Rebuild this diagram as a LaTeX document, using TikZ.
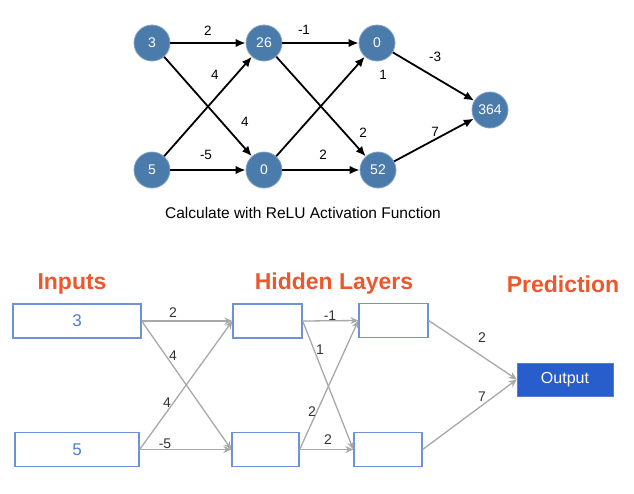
\documentclass[tikz,border=0pt]{standalone}
\usepackage{fontspec}
\setmainfont{Liberation Sans}
\usetikzlibrary{arrows.meta}
\definecolor{circblue}{RGB}{74,123,170}
\definecolor{outblue}{RGB}{40,94,204}
\definecolor{boxblue}{RGB}{110,145,215}
\definecolor{txtblue}{RGB}{80,125,205}
\definecolor{titleorange}{RGB}{236,88,44}
\definecolor{arrgray}{RGB}{168,168,168}
\definecolor{lblgray}{RGB}{50,50,50}
\tikzset{
  neuron/.style={circle,fill=circblue,draw=circblue!70!white,line width=0.8pt,minimum size=36pt,inner sep=0pt,text=white,font=\fontsize{14}{14}\selectfont},
  toparrow/.style={line width=1.8pt,-{Latex[length=10pt,width=8.5pt]}},
  toplbl/.style={font=\fontsize{13.5}{13.5}\selectfont,text=black,inner sep=0pt},
  layerbox/.style={draw=boxblue,line width=1.3pt,minimum height=34pt,inner sep=0pt,text=txtblue,font=\fontsize{17}{17}\selectfont},
  outbox/.style={fill=outblue,draw=outblue!80!white,minimum height=33pt,minimum width=96pt,inner sep=0pt,text=white,font=\fontsize{16}{16}\selectfont},
  grayarrow/.style={draw=arrgray,line width=1.3pt,-{Stealth[length=8pt,width=7pt]}},
  botlbl/.style={font=\fontsize{14}{14}\selectfont,text=lblgray,inner sep=0pt},
  title/.style={font=\fontsize{23}{23}\selectfont\bfseries,text=titleorange,inner sep=0pt}
}
\begin{document}
\begin{tikzpicture}[x=1pt,y=-1pt]
\useasboundingbox (0,0) rectangle (634,493);
% ---------- top network ----------
\node[neuron] (a1) at (152,43) {3};
\node[neuron] (a2) at (152,170) {5};
\node[neuron] (b1) at (264,43) {26};
\node[neuron] (b2) at (264,170) {0};
\node[neuron] (c1) at (377,43) {0};
\node[neuron] (c2) at (378,170) {52};
\node[neuron] (d) at (490,110) {364};
\draw[toparrow] (a1) -- (b1);
\draw[toparrow] (a1) -- (b2);
\draw[toparrow] (a2) -- (b1);
\draw[toparrow] (a2) -- (b2);
\draw[toparrow] (b1) -- (c1);
\draw[toparrow] (b1) -- (c2);
\draw[toparrow] (b2) -- (c1);
\draw[toparrow] (b2) -- (c2);
\draw[toparrow] (c1) -- (d);
\draw[toparrow] (c2) -- (d);
\node[toplbl] (t1) at (208,31) {2};
\node[toplbl] (t2) at (215,75) {4};
\node[toplbl] (t3) at (245,122) {4};
\node[toplbl] (t4) at (206,155) {-5};
\node[toplbl] (t5) at (304,30) {-1};
\node[toplbl] (t6) at (383,75) {1};
\node[toplbl] (t7) at (363,133) {2};
\node[toplbl] (t8) at (323,155) {2};
\node[toplbl] (t9) at (435,57) {-3};
\node[toplbl] (t10) at (435,132) {7};
\node[font=\fontsize{15.5}{15.5}\selectfont,inner sep=0pt] (cap) at (303,213) {Calculate with ReLU Activation Function};
% ---------- bottom network ----------
\node[title] (ti1) at (72,284) {Inputs};
\node[title] (ti2) at (334,284) {Hidden Layers};
\node[title] (ti3) at (563,284) {Prediction};
\node[layerbox,minimum width=128pt] (i1) at (77,321) {3};
\node[layerbox,minimum width=124pt] (i2) at (77,449.5) {5};
\node[layerbox,minimum width=69pt] (h1) at (267.5,321) {};
\node[layerbox,minimum width=67pt] (h2) at (265.5,449.5) {};
\node[layerbox,minimum width=69pt] (g1) at (393.5,320.5) {};
\node[layerbox,minimum width=68pt] (g2) at (388,449.5) {};
\node[outbox] (o) at (565,379.5) {Output};
\draw[grayarrow] (i1.east) -- (h1.west);
\draw[grayarrow] (i1.east) -- (h2.west);
\draw[grayarrow] (i2.east) -- (h1.west);
\draw[grayarrow] (i2.east) -- (h2.west);
\draw[grayarrow] (h1.east) -- (g1.west);
\draw[grayarrow] (h1.east) -- (g2.west);
\draw[grayarrow] (h2.east) -- (g1.west);
\draw[grayarrow] (h2.east) -- (g2.west);
\draw[grayarrow] (g1.east) -- (o.west);
\draw[grayarrow] (g2.east) -- (o.west);
\node[botlbl] (l1) at (173,313) {2};
\node[botlbl] (l2) at (173,356) {4};
\node[botlbl] (l3) at (167,403) {4};
\node[botlbl] (l4) at (165,444) {-5};
\node[botlbl] (l5) at (330,316) {-1};
\node[botlbl] (l6) at (320,350) {1};
\node[botlbl] (l7) at (312,412) {2};
\node[botlbl] (l8) at (328,440) {2};
\node[botlbl] (l9) at (482,338) {2};
\node[botlbl] (l10) at (482,397) {7};
\end{tikzpicture}
\end{document}
